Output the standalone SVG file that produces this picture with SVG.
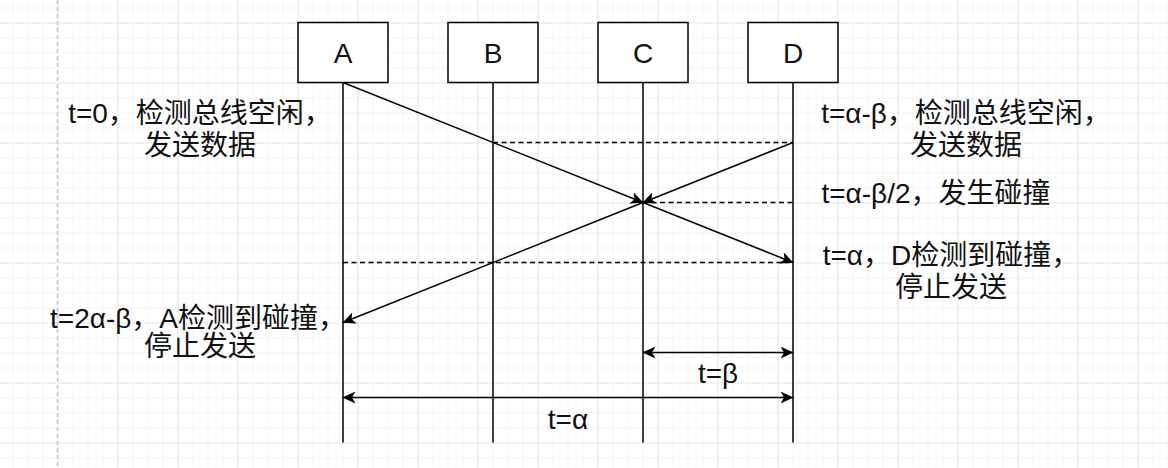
<svg xmlns="http://www.w3.org/2000/svg" width="1168" height="468" viewBox="0 0 1168 468">
<style>
.t{font-family:"Liberation Sans","Noto Sans CJK SC",sans-serif;font-size:28px;fill:#111;text-anchor:middle}
.box{fill:#fff;stroke:#000;stroke-width:1.5}
.life{stroke:#000;stroke-width:1.5;fill:none}
.msg{stroke:#000;stroke-width:1.5;fill:none;marker-end:url(#arr)}
.dash{stroke:#000;stroke-width:1.5;fill:none;stroke-dasharray:5 3.5}
.dbl{stroke:#000;stroke-width:1.5;fill:none;marker-start:url(#arr);marker-end:url(#arr)}
</style>
<defs>
<marker id="arr" viewBox="0 0 13 12" markerWidth="13" markerHeight="12" refX="12.5" refY="6" orient="auto-start-reverse" markerUnits="userSpaceOnUse">
<path d="M0,0 L13,6 L0,12 L3.5,6 Z" fill="#000"/>
</marker>
<pattern id="minor" width="15" height="15" patternUnits="userSpaceOnUse" x="12.5" y="7.5">
<path d="M0,0 H15 M0,0 V15" stroke="#f1f1f1" stroke-width="1.5" fill="none"/>
</pattern>
<pattern id="major" width="60" height="60" patternUnits="userSpaceOnUse" x="57.5" y="22.5">
<path d="M0,0 H60 M0,0 V60" stroke="#dcdcdc" stroke-width="1.2" fill="none"/>
</pattern>
</defs>
<rect width="1168" height="468" fill="#fff"/>
<rect width="1168" height="468" fill="url(#minor)"/>
<rect width="1168" height="468" fill="url(#major)"/>
<line x1="57.5" y1="0" x2="57.5" y2="468" stroke="#fff" stroke-width="2"/>
<line x1="57.5" y1="0" x2="57.5" y2="468" stroke="#c4c4c4" stroke-width="1.5" stroke-dasharray="4 3"/>

<g id="connectors">
<line class="life" x1="343" y1="82.5" x2="343" y2="442.5"/>
<line class="life" x1="493" y1="82.5" x2="493" y2="442.5"/>
<line class="life" x1="643" y1="82.5" x2="643" y2="442.5"/>
<line class="life" x1="793" y1="82.5" x2="793" y2="442.5"/>
<line class="dash" x1="493" y1="142.5" x2="793" y2="142.5"/>
<line class="dash" x1="643" y1="202.5" x2="793" y2="202.5"/>
<line class="dash" x1="343" y1="262.5" x2="793" y2="262.5"/>
<line class="msg" x1="343" y1="82.5" x2="643" y2="202.5"/>
<line class="msg" x1="643" y1="202.5" x2="793" y2="262.5"/>
<line class="msg" x1="793" y1="142.5" x2="643" y2="202.5"/>
<line class="msg" x1="643" y1="202.5" x2="343" y2="322.5"/>
<line class="dbl" x1="643" y1="352.5" x2="793" y2="352.5"/>
<line class="dbl" x1="343" y1="397.5" x2="793" y2="397.5"/>
</g>

<g id="node-A"><rect class="box" x="298" y="22.5" width="90" height="60"/><text class="t" x="343" y="63">A</text></g>
<g id="node-B"><rect class="box" x="448" y="22.5" width="90" height="60"/><text class="t" x="493" y="63">B</text></g>
<g id="node-C"><rect class="box" x="598" y="22.5" width="90" height="60"/><text class="t" x="643" y="63">C</text></g>
<g id="node-D"><rect class="box" x="748" y="22.5" width="90" height="60"/><text class="t" x="793" y="63">D</text></g>

<g id="label-t0"><text class="t" x="200" y="123">t=0，检测总线空闲，</text><text class="t" x="200" y="155">发送数据</text></g>
<g id="label-tab"><text class="t" x="966" y="123">t=α-β，检测总线空闲，</text><text class="t" x="966" y="155">发送数据</text></g>
<g id="label-tab2"><text class="t" x="936" y="203">t=α-β/2，发生碰撞</text></g>
<g id="label-ta"><text class="t" x="951" y="265">t=α，D检测到碰撞，</text><text class="t" x="951" y="297">停止发送</text></g>
<g id="label-t2ab"><text class="t" x="198" y="328">t=2α-β，A检测到碰撞，</text><text class="t" x="200" y="356">停止发送</text></g>
<g id="label-beta"><text class="t" x="718" y="383">t=β</text></g>
<g id="label-alpha"><text class="t" x="568" y="429">t=α</text></g>
</svg>
